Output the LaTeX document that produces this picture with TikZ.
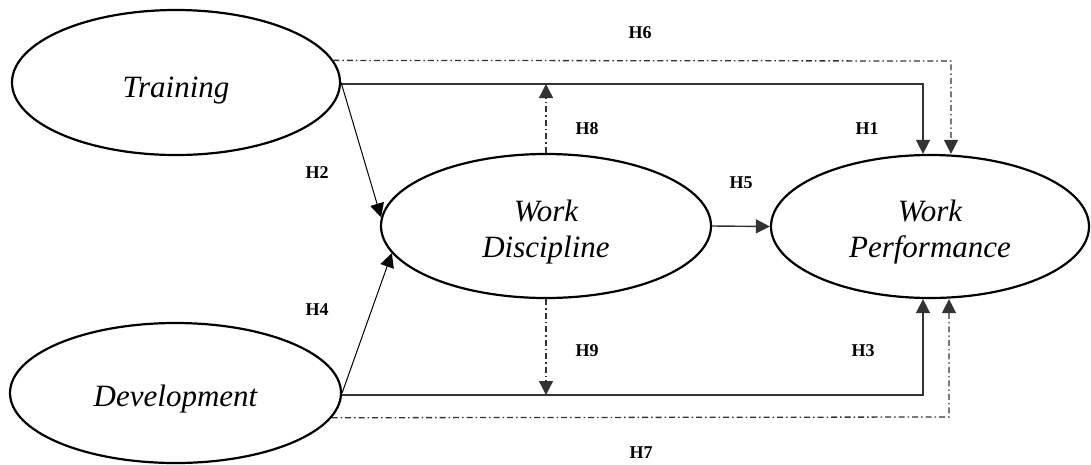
\documentclass[tikz,border=0pt]{standalone}
\usepackage{fontspec}
\setmainfont{Liberation Serif}
\usetikzlibrary{arrows.meta,shapes.geometric}
\begin{document}
\begin{tikzpicture}[x=1pt,y=-1pt,
  construct/.style={ellipse,draw=black,line width=2.2pt,inner sep=0pt},
  ctext/.style={align=center,yshift=-6pt,font=\fontsize{31}{36}\selectfont\itshape},
  hyp/.style={font=\fontsize{18}{20}\selectfont\bfseries},
  tip/.style={-{Triangle[length=14pt,width=14pt]}},
  conn/.style={draw=black!80,line width=1.4pt},
  thin/.style={draw=black,line width=1pt},
  dashdot/.style={draw=black!80,line width=1.3pt,dash pattern=on 6pt off 3pt on 1.5pt off 3pt}]
\useasboundingbox (0,0) rectangle (1091,464);

\node[construct,minimum width=328pt,minimum height=145pt,
  label={[ctext,yshift=-2pt]center:Training}] (T) at (176,82.5) {};
\node[construct,minimum width=331pt,minimum height=140pt,
  label={[ctext]center:Development}] (D) at (175.5,393) {};
\node[construct,minimum width=330pt,minimum height=144pt,
  label={[ctext]center:Work\\Discipline}] (WD) at (546,226) {};
\node[construct,minimum width=318pt,minimum height=143pt,
  label={[ctext]center:Work\\Performance}] (WP) at (930,226.5) {};

\coordinate (c1) at (923,84);
\coordinate (c6) at (951,61);
\coordinate (c3) at (923,395);
\coordinate (c7) at (949,417);

% H1 and H6
\draw[conn,tip] (T.east |- c1) -- (c1) -- (c1 |- WP.north);
\draw[dashdot,tip] (T.8) -- (c6) -- (c6 |- WP.north);
% H3 and H7
\draw[conn,tip] (D.east |- c3) -- (c3) -- (c3 |- WP.south);
\draw[dashdot,tip] (D.-9) -- (c7) -- (c7 |- WP.south);
% H2, H4
\draw[thin,tip] (T.east) -- (WD.177);
\draw[thin,tip] (D.east) -- (WD.190);
% H5
\draw[conn,tip] (WD.east) -- (WP.west);
% H8, H9
\draw[dashdot,tip] (WD.north) -- (WD.north |- c1);
\draw[dashdot,tip] (WD.south) -- (WD.south |- c3);

\node[hyp] (h6) at (640,33) {H6};
\node[hyp] (h8) at (587,129) {H8};
\node[hyp] (h1) at (867,129) {H1};
\node[hyp] (h2) at (317,173) {H2};
\node[hyp] (h5) at (741,183) {H5};
\node[hyp] (h4) at (317,310) {H4};
\node[hyp] (h9) at (587,351) {H9};
\node[hyp] (h3) at (863,351) {H3};
\node[hyp] (h7) at (641,453) {H7};
\end{tikzpicture}
\end{document}
